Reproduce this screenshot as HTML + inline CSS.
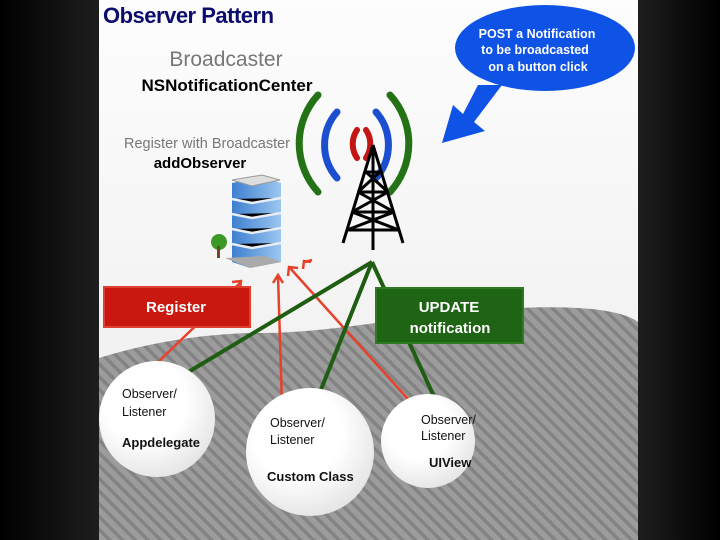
<!DOCTYPE html>
<html><head><style>
body{margin:0;width:720px;height:540px;overflow:hidden;background:#000}
svg{display:block}
text{font-family:"Liberation Sans",sans-serif}
</style></head><body>
<svg width="720" height="540" viewBox="0 0 720 540">
<defs>
<linearGradient id="bgl" x1="0" x2="1"><stop offset="0" stop-color="#000"/><stop offset="1" stop-color="#1e1e1e"/></linearGradient>
<linearGradient id="bgr" x1="0" x2="1"><stop offset="0" stop-color="#1e1e1e"/><stop offset="1" stop-color="#000"/></linearGradient>
<linearGradient id="pan" x1="0" y1="0" x2="0" y2="1"><stop offset="0" stop-color="#fdfdfd"/><stop offset="1" stop-color="#ececec"/></linearGradient>
<pattern id="hatch" width="9" height="9" patternUnits="userSpaceOnUse" patternTransform="rotate(-45)">
<rect width="9" height="9" fill="#9c9c9c"/><rect width="3.5" height="9" fill="#838383"/></pattern>
<radialGradient id="cir" cx="0.4" cy="0.35" r="0.7"><stop offset="0.5" stop-color="#fff"/><stop offset="1" stop-color="#e3e3e3"/></radialGradient>
<linearGradient id="bld" x1="0" x2="1"><stop offset="0" stop-color="#3d7fd0"/><stop offset="1" stop-color="#9cc7f0"/></linearGradient>
</defs>
<rect x="0" y="0" width="100" height="540" fill="url(#bgl)"/>
<rect x="637" y="0" width="83" height="540" fill="url(#bgr)"/>
<rect x="99" y="0" width="539" height="540" fill="url(#pan)"/>
<path d="M99 358 C140 345 200 333 260 333 C340 333 420 312 520 308 C590 305 625 312 638 322 L638 540 L99 540 Z" fill="url(#hatch)"/>
<text x="103" y="23" font-size="22" font-weight="bold" fill="#0c0c6e" letter-spacing="-0.5">Observer Pattern</text>
<text x="226" y="66" font-size="21" fill="#777" text-anchor="middle">Broadcaster</text>
<text x="227" y="91" font-size="17" font-weight="bold" fill="#000" text-anchor="middle">NSNotificationCenter</text>
<text x="207" y="148" font-size="14.5" fill="#777" text-anchor="middle">Register with Broadcaster</text>
<text x="200" y="168" font-size="15" font-weight="bold" fill="#000" text-anchor="middle">addObserver</text>
<path d="M478 85 L502 85 L474 122 L485 131 L442 143 L453 105 L463 114 Z" fill="#0f52e6"/>
<ellipse cx="545" cy="48" rx="90" ry="43" fill="#0f52e6"/>
<g font-size="12.5" font-weight="bold" fill="#fff" text-anchor="middle">
<text x="537" y="38">POST a Notification</text>
<text x="535" y="54">to be broadcasted</text>
<text x="538" y="71">on a button click</text></g>
<g fill="none" stroke-linecap="round">
<path d="M318 95 A72 72 0 0 0 318 192" stroke="#237316" stroke-width="7"/>
<path d="M390 95 A72 72 0 0 1 390 192" stroke="#237316" stroke-width="7"/>
<path d="M337 112 A50 50 0 0 0 337 178" stroke="#1c4ed0" stroke-width="7"/>
<path d="M376 112 A50 50 0 0 1 376 178" stroke="#1c4ed0" stroke-width="7"/>
<path d="M357 130 A25 25 0 0 0 357 158" stroke="#c41515" stroke-width="6"/>
<path d="M366 130 A25 25 0 0 1 366 158" stroke="#c41515" stroke-width="6"/>
</g>
<g stroke="#000" stroke-width="3" fill="none">
<path d="M373 145 L343 243 M373 145 L403 243 M373 145 L373 250"/>
<path d="M365 172 L381 172 M358 192 L388 192 M352 212 L394 212 M347 230 L399 230 M366 172 L388 192 M380 172 L358 192 M358 192 L394 212 M388 192 L352 212 M352 212 L399 230 M394 212 L347 230"/>
</g>
<polygon points="232,183 262,177 281,183 281,262 250,268 232,262" fill="url(#bld)"/>
<polygon points="232,180 262,175 280,180 252,186" fill="#ddd" stroke="#999"/>
<g stroke="#e8eef5" stroke-width="2.5"><path d="M232 199 L252 203 L281 198 M232 214 L252 218 L281 213 M232 229 L252 233 L281 228 M232 244 L252 248 L281 243"/></g>
<polygon points="225,258 250,268 281,262 265,256" fill="#aaa"/>
<circle cx="219" cy="242" r="8" fill="#3b9a26"/><rect x="217" y="246" width="3" height="12" fill="#6a4a20"/>
<g stroke="#e8412a" stroke-width="2.5" fill="none">
<path d="M155 365 L240 283"/><path d="M282 405 L278 276"/><path d="M416 408 L290 268"/><path d="M305 262 L312 260"/>
<path d="M232 282 L241 281 L240 290 M273 283 L278 275 L283 283 M288 276 L289 267 L298 268 M303 269 L304 261 L311 262"/>
</g>
<g stroke="#1f5d12" stroke-width="4" fill="none">
<path d="M372 262 L180 377"/><path d="M372 262 L316 402"/><path d="M372 262 L437 403"/>
</g>
<g fill="#1f5d12"><polygon points="173,380 186,368 190,379"/><polygon points="314,407 308,395 322,397"/><polygon points="440,408 429,398 443,396"/></g>
<rect x="104" y="287" width="146" height="40" fill="#c8180f" stroke="#e04030" stroke-width="2"/>
<text x="176" y="312" font-size="15" font-weight="bold" fill="#fff" text-anchor="middle">Register</text>
<rect x="376" y="288" width="147" height="55" fill="#1f6414" stroke="#2d7a20" stroke-width="2"/>
<text x="449" y="312" font-size="15" font-weight="bold" fill="#fff" text-anchor="middle">UPDATE</text>
<text x="450" y="333" font-size="15" font-weight="bold" fill="#fff" text-anchor="middle">notification</text>
<circle cx="157" cy="419" r="58" fill="url(#cir)"/>
<circle cx="310" cy="452" r="64" fill="url(#cir)"/>
<circle cx="428" cy="441" r="47" fill="url(#cir)"/>
<g font-size="12.5" fill="#111">
<text x="122" y="398">Observer/</text><text x="122" y="416">Listener</text>
<text x="122" y="447" font-weight="bold" font-size="13">Appdelegate</text>
<text x="270" y="427">Observer/</text><text x="270" y="444">Listener</text>
<text x="267" y="481" font-weight="bold" font-size="13">Custom Class</text>
<text x="421" y="424">Observer/</text><text x="421" y="440">Listener</text>
<text x="429" y="467" font-weight="bold" font-size="13">UIView</text>
</g>
</svg>
</body></html>
